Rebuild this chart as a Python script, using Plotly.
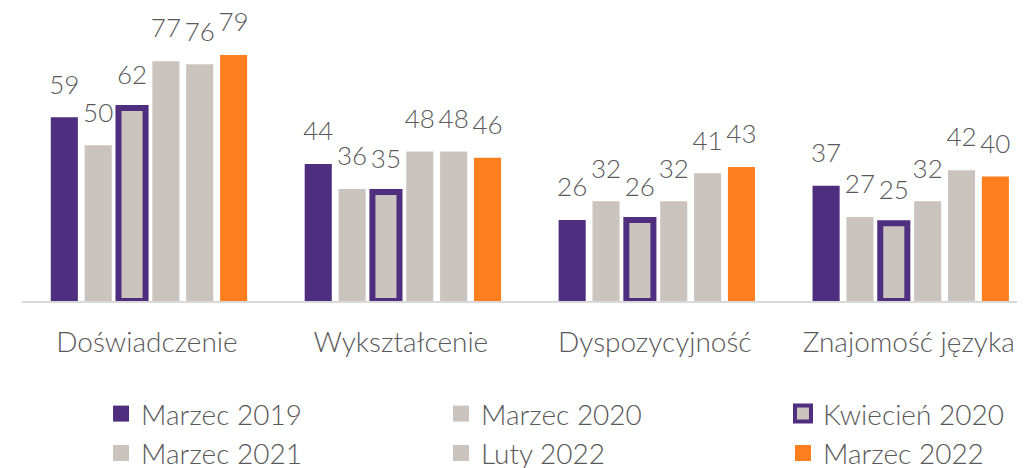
import plotly.graph_objects as go

categories = ["Doświadczenie", "Wykształcenie", "Dyspozycyjność", "Znajomość języka"]
series_names = ["Marzec 2019", "Marzec 2020", "Kwiecień 2020", "Marzec 2021", "Luty 2022", "Marzec 2022"]
marzec_2019 = [59, 44, 26, 37]
marzec_2020 = [50, 36, 32, 27]
kwiecien_2020 = [62, 35, 26, 25]
marzec_2021 = [77, 48, 32, 32]
luty_2022 = [76, 48, 41, 42]
marzec_2022 = [79, 46, 43, 40]

PURPLE = "#4F2D7F"
GRAY = "#CBC4BE"
ORANGE = "#FF7F1F"
TEXT = "#595959"
FONT = "Lato"

values = [marzec_2019, marzec_2020, kwiecien_2020, marzec_2021, luty_2022, marzec_2022]
fills = [PURPLE, GRAY, GRAY, GRAY, GRAY, ORANGE]
lines = [0, 0, 6, 0, 0, 0]
legend_ids = ["legend", "legend2", "legend3", "legend", "legend2", "legend3"]

fig = go.Figure()
for i, (name, vals) in enumerate(zip(series_names, values)):
    fig.add_trace(go.Bar(
        x=categories, y=vals, name=name, offsetgroup=str(i),
        marker=dict(color=fills[i], line=dict(color=PURPLE, width=lines[i])),
        showlegend=False, cliponaxis=False, hoverinfo="skip",
    ))
for i, (name, vals) in enumerate(zip(series_names, values)):
    fig.add_trace(go.Scatter(
        x=categories, y=vals, offsetgroup=str(i), mode="markers+text",
        marker=dict(size=26, color="rgba(0,0,0,0)"),
        text=[str(v) for v in vals], textposition="top center",
        textfont=dict(family=FONT, size=26, color=TEXT, weight=300),
        showlegend=False, cliponaxis=False, hoverinfo="skip",
    ))
for i, name in enumerate(series_names):
    fig.add_trace(go.Scatter(
        x=[None], y=[None], name=name, offsetgroup=str(i), mode="markers",
        legend=legend_ids[i], legendgroup=name,
        marker=dict(symbol="square", size=18, color=fills[i],
                    line=dict(color=PURPLE, width=4 if lines[i] else 0)),
        showlegend=True,
    ))

leg_common = dict(orientation="v", xanchor="left", yref="paper", yanchor="top",
                  y=-0.30, tracegroupgap=2, traceorder="normal",
                  font=dict(family=FONT, size=28, color=TEXT, weight=300),
                  bgcolor="rgba(0,0,0,0)", borderwidth=0)

fig.update_layout(
    width=1017, height=460,
    margin=dict(l=14, r=0, t=0, b=167, autoexpand=False),
    paper_bgcolor="white", plot_bgcolor="white",
    barmode="group", bargap=0.2, bargroupgap=0.2,
    scattermode="group", scattergap=0.2,
    font=dict(family=FONT, size=24, color=TEXT, weight=300),
    xaxis=dict(type="category", categoryarray=categories, range=[-0.5, 3.45],
               showline=True, linecolor="#D9D9D9", linewidth=2, ticks="",
               showgrid=False, zeroline=False, ticklabelstandoff=15,
               ticklabelshift=-2,
               tickfont=dict(family=FONT, size=28, color=TEXT, weight=300)),
    yaxis=dict(range=[0, 94.09], visible=False),
    legend=dict(x=0.0788, **leg_common),
    legend2=dict(x=0.4177, **leg_common),
    legend3=dict(x=0.7587, **leg_common),
    showlegend=True,
)

fig.write_html("out.html")
